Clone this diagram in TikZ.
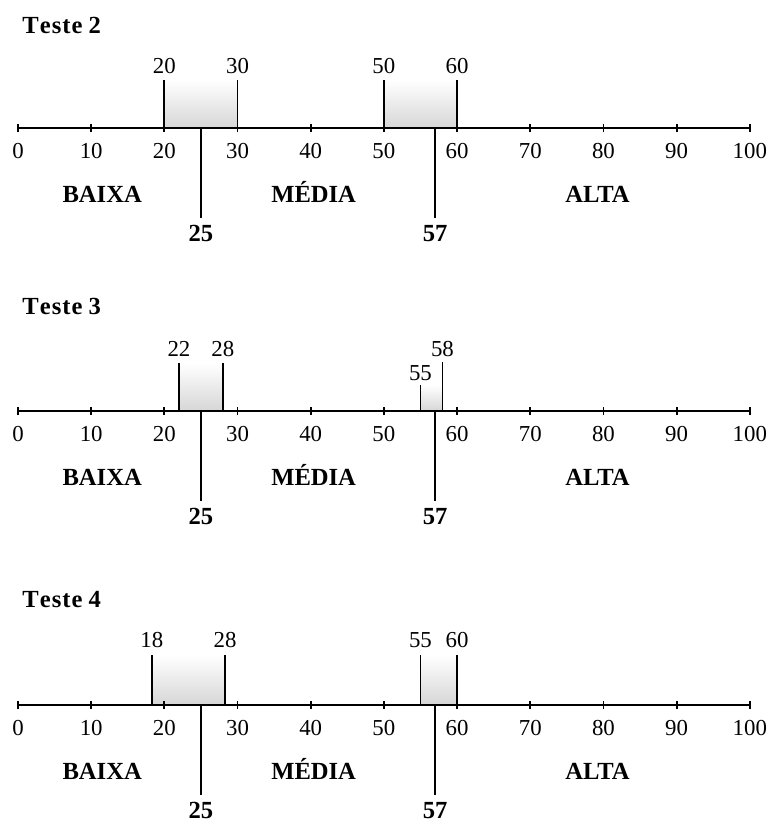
\documentclass[tikz,border=0pt]{standalone}
\usepackage{fontspec}
\setmainfont{Liberation Serif}

\tikzset{
  linha/.style={draw=black, line width=1pt},
  faixa/.style={top color=white, middle color=gray!6, bottom color=gray!32},
  numero/.style={font=\fontsize{13}{15}\selectfont, inner sep=0pt, anchor=base},
  classe/.style={font=\fontsize{14}{16}\selectfont\bfseries, inner sep=0pt, anchor=base},
  titulo/.style={font=\fontsize{14}{16}\selectfont\bfseries, anchor=west, inner sep=0pt}
}

% eixo de 0 a 100 com as classes e os limites 25 e 57
\newcommand{\eixo}{
  \draw[linha] (0,0) -- (100,0);
  \foreach \v in {0,10,...,100} {
    \draw[linha] (\v,-4) -- (\v,4);
    \node[numero] (n\v) at (\v,-30) {\v};
  }
  \node[classe] (baixa) at (11.5,-74) {BAIXA};
  \node[classe] (media) at (40.4,-74) {MÉDIA};
  \node[classe] (alta) at (79.2,-74) {ALTA};
  \draw[linha] (25,0) -- (25,-90);
  \draw[linha] (57,0) -- (57,-90);
  \node[classe] (lim1) at (25,-113) {25};
  \node[classe] (lim2) at (57,-113) {57};
}

\begin{document}
\begin{tikzpicture}[x=0.1464cm, y=0.02cm]

  \useasboundingbox (-2.459,-823) rectangle (103.0,0);

  % --- Teste 2 ---
  \begin{scope}[shift={(0,-128)}]
    \node[titulo] (t2) at (0.55,103) {T\kern.6pt e\kern.6pt s\kern.6pt t\kern.6pt e 2};
    \shade[faixa] (20,0) rectangle (30,48);
    \shade[faixa] (50,0) rectangle (60,48);
    \eixo
    \draw[linha] (20,0) -- (20,48);
    \draw[linha] (30,0) -- (30,48);
    \draw[linha] (50,0) -- (50,48);
    \draw[linha] (60,0) -- (60,48);
    \node[numero] (a20) at (20,55) {20};
    \node[numero] (a30) at (30,55) {30};
    \node[numero] (a50) at (50,55) {50};
    \node[numero] (a60) at (60,55) {60};
  \end{scope}

  % --- Teste 3 ---
  \begin{scope}[shift={(0,-411)}]
    \node[titulo] (t3) at (0.55,105) {T\kern.6pt e\kern.6pt s\kern.6pt t\kern.6pt e 3};
    \shade[faixa] (22,0) rectangle (28,48);
    \shade[faixa] (55,0) rectangle (58,26);
    \eixo
    \draw[linha] (22,0) -- (22,48);
    \draw[linha] (28,0) -- (28,48);
    \draw[linha] (55,0) -- (55,26);
    \draw[linha] (58,0) -- (58,49);
    \node[numero] (b22) at (22,55) {22};
    \node[numero] (b28) at (28,55) {28};
    \node[numero] (b55) at (55,31) {55};
    \node[numero] (b58) at (58,55) {58};
  \end{scope}

  % --- Teste 4 ---
  \begin{scope}[shift={(0,-705)}]
    \node[titulo] (t4) at (0.55,105) {T\kern.6pt e\kern.6pt s\kern.6pt t\kern.6pt e 4};
    \shade[faixa] (18.3,0) rectangle (28.3,50);
    \shade[faixa] (55,0) rectangle (60,50);
    \eixo
    \draw[linha] (18.3,0) -- (18.3,50);
    \draw[linha] (28.3,0) -- (28.3,50);
    \draw[linha] (55,0) -- (55,50);
    \draw[linha] (60,0) -- (60,50);
    \node[numero] (c18) at (18.3,58) {18};
    \node[numero] (c28) at (28.3,58) {28};
    \node[numero] (c55) at (55,58) {55};
    \node[numero] (c60) at (60,58) {60};
  \end{scope}

\end{tikzpicture}
\end{document}
